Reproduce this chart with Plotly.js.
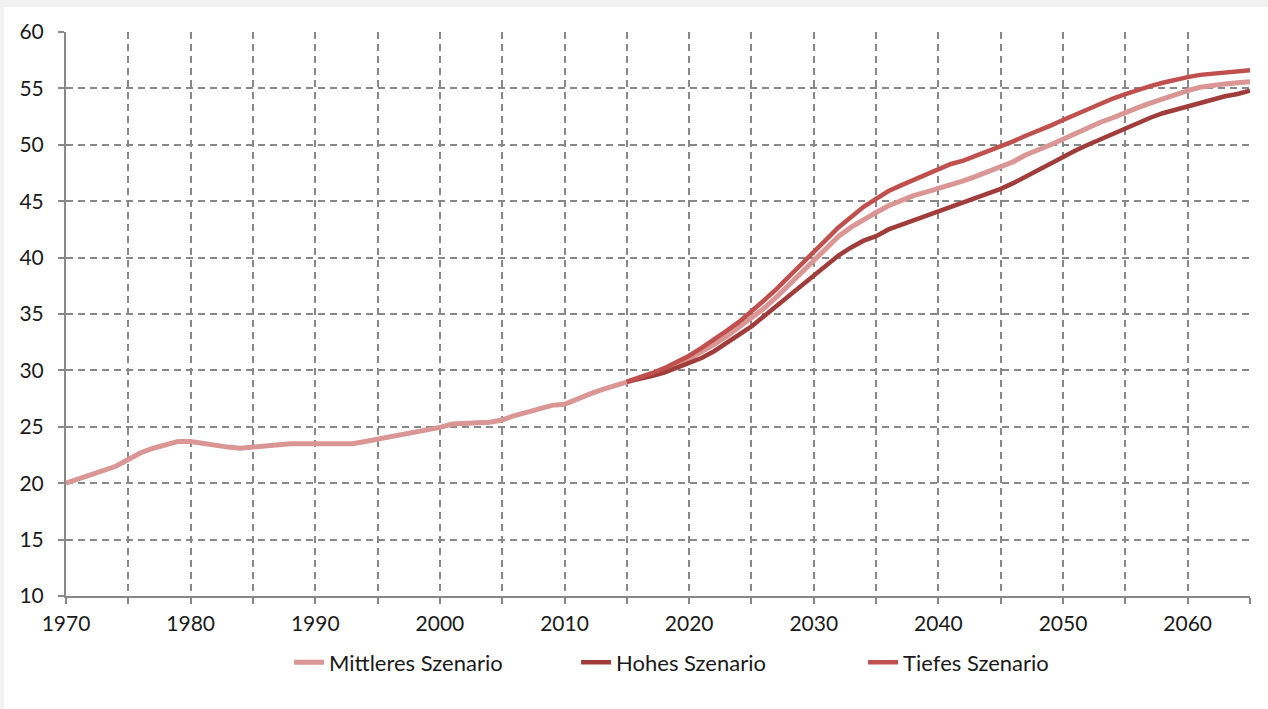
<!DOCTYPE html>
<html>
<head>
<meta charset="utf-8">
<script src="https://cdn.plot.ly/plotly-3.0.1.min.js"></script>
<style>
  html, body { margin: 0; padding: 0; background: #f2f2f2; width: 1268px; height: 709px; overflow: hidden; }
  #chart { position: absolute; left: 4px; top: 7px; width: 1264px; height: 702px; background: #ffffff; }
</style>
</head>
<body>
<div id="chart"></div>
<script>
// Historical + mittleres (middle) scenario, 1970-2065
const yearsMittleres = [];
for (let y = 1970; y <= 2065; y++) yearsMittleres.push(y);
const valuesMittleres = [
  20.0, 20.35, 20.8, 21.1, 21.5, 22.1, 22.7, 23.1, 23.4, 23.7,   // 1970-1979
  23.7, 23.5, 23.3, 23.2, 23.1, 23.2, 23.4, 23.4, 23.5, 23.5,   // 1980-1989
  23.5, 23.4, 23.5, 23.5, 23.7, 23.9, 24.1, 24.3, 24.5, 24.7,   // 1990-1999
  24.95, 25.25, 25.25, 25.35, 25.4, 25.6, 26.0, 26.3, 26.5, 26.9, // 2000-2009
  27.0, 27.5, 27.9, 28.3, 28.6, 29.0, 29.3, 29.65, 30.05, 30.5,  // 2010-2019
  31.0, 31.6, 32.3, 33.0, 33.8, 34.6, 35.5, 36.5, 37.6, 38.7,    // 2020-2029
  39.8, 40.9, 41.9, 42.7, 43.4, 44.0, 44.6, 45.1, 45.5, 45.8,    // 2030-2039
  46.1, 46.5, 46.8, 47.2, 47.6, 48.0, 48.5, 49.1, 49.5, 50.0,    // 2040-2049
  50.5, 51.0, 51.6, 52.0, 52.4, 52.9, 53.3, 53.7, 54.1, 54.4,    // 2050-2059
  54.8, 55.1, 55.3, 55.4, 55.5, 55.6                              // 2060-2065
];

// Hohes (high) scenario, 2015-2065
const yearsScenario = [];
for (let y = 2015; y <= 2065; y++) yearsScenario.push(y);
const valuesHohes = [
  29.0, 29.2, 29.5, 29.8, 30.2,                                  // 2015-2019
  30.6, 31.1, 31.7, 32.4, 33.1, 33.9, 34.8, 35.7, 36.7, 37.6,    // 2020-2029
  38.5, 39.4, 40.2, 40.9, 41.5, 41.9, 42.5, 42.9, 43.3, 43.6,    // 2030-2039
  44.0, 44.4, 44.8, 45.2, 45.6, 46.1, 46.6, 47.2, 47.7, 48.3,    // 2040-2049
  48.9, 49.5, 50.0, 50.5, 51.0, 51.4, 51.9, 52.4, 52.8, 53.1,    // 2050-2059
  53.4, 53.8, 54.0, 54.3, 54.5, 54.8                              // 2060-2065
];

// Tiefes (low) scenario, 2015-2065
const valuesTiefes = [
  29.0, 29.35, 29.75, 30.2, 30.7,                                // 2015-2019
  31.3, 32.0, 32.7, 33.5, 34.3, 35.2, 36.2, 37.2, 38.3, 39.4,    // 2020-2029
  40.6, 41.7, 42.7, 43.6, 44.5, 45.2, 45.9, 46.4, 46.9, 47.4,    // 2030-2039
  47.8, 48.3, 48.6, 49.0, 49.4, 49.9, 50.3, 50.8, 51.2, 51.7,    // 2040-2049
  52.2, 52.7, 53.1, 53.6, 54.1, 54.5, 54.9, 55.2, 55.5, 55.8,    // 2050-2059
  56.0, 56.2, 56.3, 56.4, 56.5, 56.6                              // 2060-2065
];

const xTickVals = [1970,1975,1980,1985,1990,1995,2000,2005,2010,2015,2020,2025,2030,2035,2040,2045,2050,2055,2060,2065];
const xTickText = ['1970','','1980','','1990','','2000','','2010','','2020','','2030','','2040','','2050','','2060',''];
const yTickVals = [10,15,20,25,30,35,40,45,50,55,60];

const seriesNames = ['Mittleres Szenario', 'Hohes Szenario', 'Tiefes Szenario'];
const seriesColors = ['#DA9694', '#A03C3A', '#C0504D'];

const traces = [
  { x: yearsMittleres, y: valuesMittleres, name: seriesNames[0], type: 'scatter', mode: 'lines',
    line: { color: seriesColors[0], width: 5 } },
  { x: yearsScenario, y: valuesHohes, name: seriesNames[1], type: 'scatter', mode: 'lines',
    line: { color: seriesColors[1], width: 4.5 } },
  { x: yearsScenario, y: valuesTiefes, name: seriesNames[2], type: 'scatter', mode: 'lines',
    line: { color: seriesColors[2], width: 4.5 } }
];

const gridColor = '#888888';
const layout = {
  width: 1264, height: 702,
  paper_bgcolor: '#ffffff', plot_bgcolor: '#ffffff',
  margin: { l: 62, r: 18, t: 25, b: 113 },
  font: { family: 'Lato, "Open Sans", sans-serif', size: 21, color: '#1a1a1a' },
  showlegend: true,
  legend: {
    orientation: 'h', x: 0.552, xanchor: 'center', y: -0.118, yanchor: 'middle',
    font: { family: 'Lato, "Open Sans", sans-serif', size: 22, color: '#1a1a1a' },
    entrywidth: 242, entrywidthmode: 'pixels'
  },
  xaxis: {
    range: [1970, 2065], tickmode: 'array', tickvals: xTickVals, ticktext: xTickText,
    showgrid: true, gridcolor: gridColor, gridwidth: 2, griddash: '7px,5px',
    showline: true, linecolor: gridColor, linewidth: 2,
    ticks: 'outside', ticklen: 6, tickcolor: gridColor, tickwidth: 2,
    ticklabelstandoff: 2, zeroline: false, fixedrange: true
  },
  yaxis: {
    range: [10, 60], tickmode: 'array', tickvals: yTickVals,
    showgrid: true, gridcolor: gridColor, gridwidth: 2, griddash: '7px,5px',
    showline: true, linecolor: gridColor, linewidth: 2,
    ticks: 'outside', ticklen: 6, tickcolor: gridColor, tickwidth: 2,
    ticklabelstandoff: 10, zeroline: false, fixedrange: true
  }
};

Plotly.newPlot('chart', traces, layout, { displayModeBar: false, staticPlot: true });
</script>
</body>
</html>
